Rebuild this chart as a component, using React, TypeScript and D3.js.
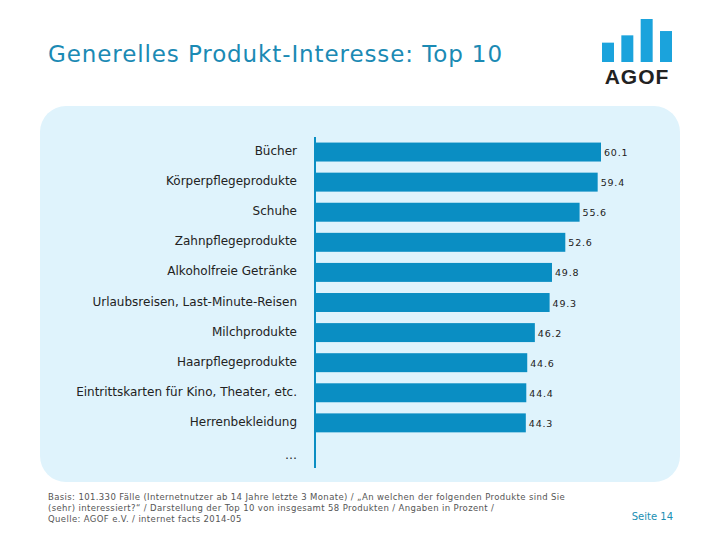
import React from "react";
import * as d3 from "d3";

const categories = [
  "Bücher",
  "Körperpflegeprodukte",
  "Schuhe",
  "Zahnpflegeprodukte",
  "Alkoholfreie Getränke",
  "Urlaubsreisen, Last-Minute-Reisen",
  "Milchprodukte",
  "Haarpflegeprodukte",
  "Eintrittskarten für Kino, Theater, etc.",
  "Herrenbekleidung",
  "…",
];
const values: (number | null)[] = [60.1, 59.4, 55.6, 52.6, 49.8, 49.3, 46.2, 44.6, 44.4, 44.3, null];

const title = "Generelles Produkt-Interesse: Top 10";
const footerLines = [
  "Basis: 101.330 Fälle (Internetnutzer ab 14 Jahre letzte 3 Monate) / „An welchen der folgenden Produkte sind Sie",
  "(sehr) interessiert?“ / Darstellung der Top 10 von insgesamt 58 Produkten / Angaben in Prozent /",
  "Quelle: AGOF e.V. / internet facts 2014-05",
];
const pageLabel = "Seite 14";
const logoBars = [0.45, 0.62, 1, 0.72];

export default function App() {
  const W = 720, H = 540;
  const x0 = 315;
  const x = d3.scaleLinear().domain([0, 60.1]).range([x0, 601]);
  const y = d3.scaleBand<string>().domain(categories).range([137, 468]).paddingInner(0.37).paddingOuter(0.185);
  const font = "'DejaVu Sans', Verdana, sans-serif";
  const barColor = "#0a8ec3";

  const logoX = d3.scaleBand<number>().domain(d3.range(logoBars.length)).range([602, 672]).paddingInner(0.38);
  const logoY = d3.scaleLinear().domain([0, 1]).range([62, 19]);

  return (
    <svg width={W} height={H} style={{ position: "absolute", left: 0, top: 0 }}>
      <rect x={0} y={0} width={W} height={H} fill="#ffffff" />
      <text x={48} y={62} fontFamily={font} fontSize={23} letterSpacing={0.9} fill="#1b8ab4">{title}</text>
      {logoBars.map((v, i) => (
        <rect key={i} x={logoX(i)!} y={logoY(v)} width={logoX.bandwidth()} height={logoY(0) - logoY(v)} fill="#1ba3dc" />
      ))}
      <text x={637} y={84} textAnchor="middle" fontFamily="'Liberation Sans', Arial, sans-serif" fontWeight="bold" fontSize={21} fill="#222" letterSpacing={1}>AGOF</text>
      <rect x={40} y={106} width={640} height={376} rx={26} ry={26} fill="#dff3fc" />
      {categories.map((c, i) => {
        const yy = y(c)!;
        const v = values[i];
        const cy = yy + y.bandwidth() / 2;
        return (
          <g key={c}>
            <text x={297} y={cy + (v == null ? 6 : 3)} textAnchor="end" fontFamily={font} fontSize={12} fill="#222">{c}</text>
            {v != null && (
              <>
                <rect x={x0} y={yy} width={x(v) - x0} height={y.bandwidth()} fill={barColor} />
                <text x={x(v) + 3} y={cy + 4} fontFamily={font} fontSize={9.5} letterSpacing={0.8} fill="#222">{v.toFixed(1)}</text>
              </>
            )}
          </g>
        );
      })}
      <line x1={x0} x2={x0} y1={137} y2={468} stroke={barColor} strokeWidth={2} />
      {footerLines.map((l, i) => (
        <text key={i} x={48} y={500 + i * 11} fontFamily={font} fontSize={8.5} letterSpacing={0.37} fill="#555">{l}</text>
      ))}
      <text x={673} y={520} textAnchor="end" fontFamily={font} fontSize={10} fill="#1a8fb3">{pageLabel}</text>
    </svg>
  );
}
